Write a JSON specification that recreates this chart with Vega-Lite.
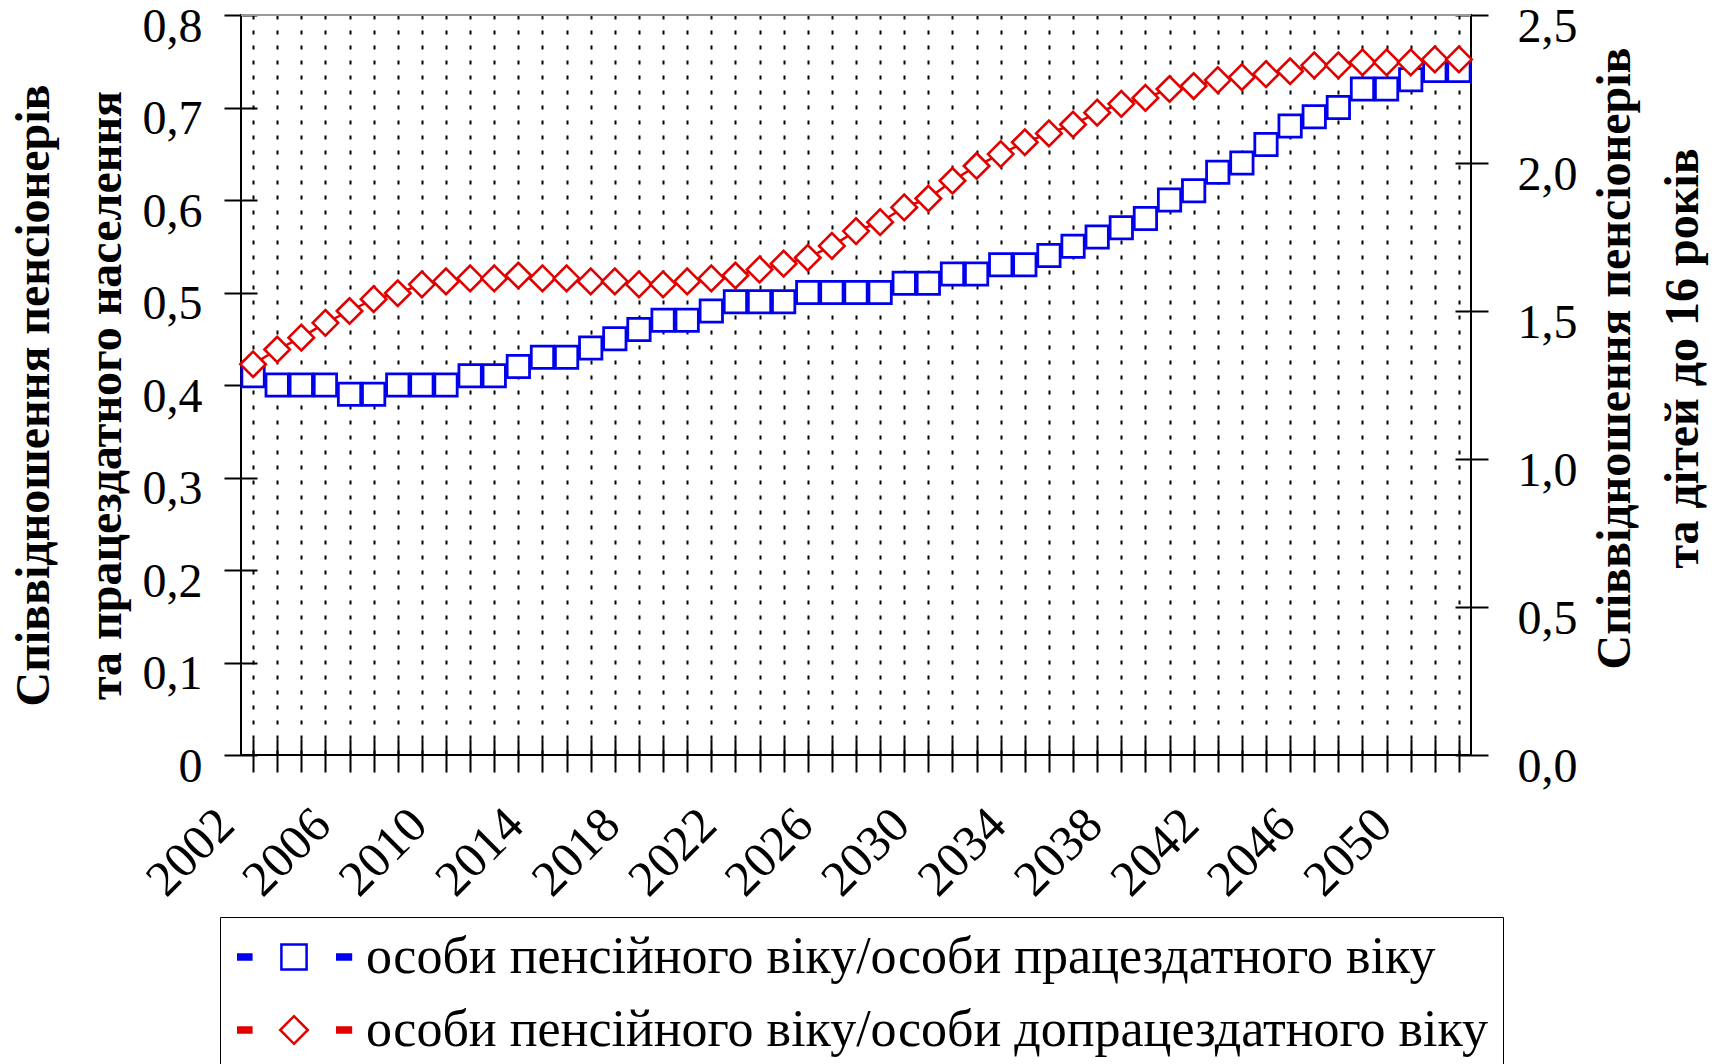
{
  "$schema": "https://vega.github.io/schema/vega-lite/v6.json",
  "autosize": {"type": "none"},
  "width": 1230,
  "height": 740,
  "padding": {"left": 241, "top": 15, "right": 258, "bottom": 309},
  "background": "white",
  "config": {
    "font": "Liberation Serif",
    "view": {"stroke": "black", "strokeWidth": 2},
    "axis": {"labelFont": "Liberation Serif", "titleFont": "Liberation Serif", "labelColor": "black", "titleColor": "black", "tickColor": "black"},
    "legend": {"labelFont": "Liberation Serif"}
  },
  "data": {"values": [
    {"year": 2002, "b": 0.41, "r": 1.32},
    {"year": 2003, "b": 0.40, "r": 1.37},
    {"year": 2004, "b": 0.40, "r": 1.41},
    {"year": 2005, "b": 0.40, "r": 1.46},
    {"year": 2006, "b": 0.39, "r": 1.50},
    {"year": 2007, "b": 0.39, "r": 1.54},
    {"year": 2008, "b": 0.40, "r": 1.56},
    {"year": 2009, "b": 0.40, "r": 1.59},
    {"year": 2010, "b": 0.40, "r": 1.60},
    {"year": 2011, "b": 0.41, "r": 1.61},
    {"year": 2012, "b": 0.41, "r": 1.61},
    {"year": 2013, "b": 0.42, "r": 1.62},
    {"year": 2014, "b": 0.43, "r": 1.61},
    {"year": 2015, "b": 0.43, "r": 1.61},
    {"year": 2016, "b": 0.44, "r": 1.60},
    {"year": 2017, "b": 0.45, "r": 1.60},
    {"year": 2018, "b": 0.46, "r": 1.59},
    {"year": 2019, "b": 0.47, "r": 1.59},
    {"year": 2020, "b": 0.47, "r": 1.60},
    {"year": 2021, "b": 0.48, "r": 1.61},
    {"year": 2022, "b": 0.49, "r": 1.62},
    {"year": 2023, "b": 0.49, "r": 1.64},
    {"year": 2024, "b": 0.49, "r": 1.66},
    {"year": 2025, "b": 0.50, "r": 1.68},
    {"year": 2026, "b": 0.50, "r": 1.72},
    {"year": 2027, "b": 0.50, "r": 1.77},
    {"year": 2028, "b": 0.50, "r": 1.80},
    {"year": 2029, "b": 0.51, "r": 1.85},
    {"year": 2030, "b": 0.51, "r": 1.88},
    {"year": 2031, "b": 0.52, "r": 1.94},
    {"year": 2032, "b": 0.52, "r": 1.99},
    {"year": 2033, "b": 0.53, "r": 2.03},
    {"year": 2034, "b": 0.53, "r": 2.07},
    {"year": 2035, "b": 0.54, "r": 2.10},
    {"year": 2036, "b": 0.55, "r": 2.13},
    {"year": 2037, "b": 0.56, "r": 2.17},
    {"year": 2038, "b": 0.57, "r": 2.20},
    {"year": 2039, "b": 0.58, "r": 2.22},
    {"year": 2040, "b": 0.60, "r": 2.25},
    {"year": 2041, "b": 0.61, "r": 2.26},
    {"year": 2042, "b": 0.63, "r": 2.28},
    {"year": 2043, "b": 0.64, "r": 2.29},
    {"year": 2044, "b": 0.66, "r": 2.30},
    {"year": 2045, "b": 0.68, "r": 2.31},
    {"year": 2046, "b": 0.69, "r": 2.33},
    {"year": 2047, "b": 0.70, "r": 2.33},
    {"year": 2048, "b": 0.72, "r": 2.34},
    {"year": 2049, "b": 0.72, "r": 2.34},
    {"year": 2050, "b": 0.73, "r": 2.34},
    {"year": 2051, "b": 0.74, "r": 2.35},
    {"year": 2052, "b": 0.74, "r": 2.35}
  ]},
  "layer": [
    {
      "layer": [
        {
          "mark": {"type": "line", "strokeWidth": 2.5},
          "encoding": {
            "x": {
              "field": "year", "type": "ordinal",
              "scale": {"paddingInner": 0, "paddingOuter": 0},
              "axis": {
                "title": null, "orient": "bottom", "bandPosition": 0, "offset": -16, "domain": false,
                "ticks": true, "tickSize": 33, "tickWidth": 2, "tickColor": "black",
                "grid": true, "gridColor": "black", "gridDash": [4, 11], "gridWidth": 2,
                "labelAngle": -45, "labelAlign": "right", "labelBaseline": "top",
                "labelFontSize": 50, "labelPadding": 27, "labelOffset": -45, "labelOverlap": false,
                "labelExpr": "(datum.value - 2002) % 4 == 0 ? datum.label : ''"
              }
            },
            "y": {
              "field": "b", "type": "quantitative",
              "scale": {"domain": [0, 0.8], "nice": false},
              "axis": {
                "title": ["Співвідношення пенсіонерів", "та працездатного населення"],
                "orient": "left", "offset": -16, "domain": false, "grid": false,
                "values": [0, 0.1, 0.2, 0.3, 0.4, 0.5, 0.6, 0.7, 0.8],
                "tickSize": 33, "tickWidth": 2, "tickColor": "black",
                "labelFontSize": 48, "labelPadding": 22, "labelOffset": 12,
                "labelExpr": "datum.value == 0 ? '0' : replace(format(datum.value, '.1f'), '.', ',')",
                "titleFontSize": 48, "titleFontWeight": "bold", "titleAngle": -90,
                "titleAlign": "center", "titleBaseline": "alphabetic", "titleLineHeight": 72,
                "titleX": -209, "titleY": 380
              }
            },
            "stroke": {
              "datum": "особи пенсійного віку/особи працездатного віку", "type": "nominal",
              "scale": {
                "domain": ["особи пенсійного віку/особи працездатного віку", "особи пенсійного віку/особи допрацездатного віку"],
                "range": ["#0000ee", "#e00000"]
              },
              "legend": {
                "title": null, "orient": "none", "legendX": -21, "legendY": 902, "direction": "vertical",
                "padding": 14, "strokeColor": "black", "fillColor": "white",
                "symbolOffset": 34, "labelOffset": 46, "labelFontSize": 52, "labelColor": "black",
                "labelLimit": 3000, "rowPadding": 21, "symbolSize": 576, "symbolStrokeWidth": 2.5,
                "symbolFillColor": "transparent", "symbolOpacity": 1
              }
            }
          }
        },
        {
          "mark": {"type": "point", "shape": "square", "size": 500, "filled": true, "fill": "white", "strokeWidth": 2.8, "opacity": 1},
          "encoding": {
            "x": {"field": "year", "type": "ordinal"},
            "y": {"field": "b", "type": "quantitative"},
            "stroke": {"datum": "особи пенсійного віку/особи працездатного віку", "type": "nominal"}
          }
        },
        {
          "mark": {"type": "point", "size": 576, "opacity": 0},
          "encoding": {
            "x": {"field": "year", "type": "ordinal"},
            "y": {"field": "b", "type": "quantitative"},
            "shape": {
              "datum": "особи пенсійного віку/особи працездатного віку", "type": "nominal",
              "scale": {
                "domain": ["особи пенсійного віку/особи працездатного віку", "особи пенсійного віку/особи допрацездатного віку"],
                "range": [
                  "M-4.75,-0.2H-3.45M-4.75,0H-3.45M-4.75,0.2H-3.45M-1.05,-1.05H1.05V1.05H-1.05ZM3.5,-0.2H4.85M3.5,0H4.85M3.5,0.2H4.85",
                  "M-4.75,-0.2H-3.45M-4.75,0H-3.45M-4.75,0.2H-3.45M0,-1.15L1.15,0L0,1.15L-1.15,0ZM3.5,-0.2H4.85M3.5,0H4.85M3.5,0.2H4.85"
                ]
              }
            }
          }
        },
        {
          "mark": {"type": "rule", "color": "#9a9a9a", "strokeWidth": 2},
          "encoding": {
            "y": {"datum": 0.8, "type": "quantitative"}
          }
        }
      ]
    },
    {
      "layer": [
        {
          "mark": {"type": "line", "strokeWidth": 2.5},
          "encoding": {
            "x": {"field": "year", "type": "ordinal"},
            "y": {
              "field": "r", "type": "quantitative",
              "scale": {"domain": [0, 2.5], "nice": false},
              "axis": {
                "title": ["Співвідношення пенсіонерів", "та дітей до 16 років"],
                "orient": "right", "offset": -16, "domain": false, "grid": false,
                "values": [0, 0.5, 1, 1.5, 2, 2.5],
                "tickSize": 33, "tickWidth": 2, "tickColor": "black",
                "labelFontSize": 48, "labelPadding": 29, "labelOffset": 12,
                "labelExpr": "replace(format(datum.value, '.1f'), '.', ',')",
                "titleFontSize": 48, "titleFontWeight": "bold", "titleAngle": -90,
                "titleAlign": "center", "titleBaseline": "alphabetic", "titleLineHeight": 68,
                "titleX": 174, "titleY": 343
              }
            },
            "stroke": {"datum": "особи пенсійного віку/особи допрацездатного віку", "type": "nominal"}
          }
        },
        {
          "mark": {"type": "point", "shape": "diamond", "size": 650, "filled": true, "fill": "white", "strokeWidth": 2.6, "opacity": 1},
          "encoding": {
            "x": {"field": "year", "type": "ordinal"},
            "y": {"field": "r", "type": "quantitative"},
            "stroke": {"datum": "особи пенсійного віку/особи допрацездатного віку", "type": "nominal"}
          }
        },
        {
          "mark": {"type": "point", "size": 576, "opacity": 0},
          "encoding": {
            "x": {"field": "year", "type": "ordinal"},
            "y": {"field": "r", "type": "quantitative"},
            "shape": {"datum": "особи пенсійного віку/особи допрацездатного віку", "type": "nominal"}
          }
        }
      ]
    }
  ],
  "resolve": {"scale": {"y": "independent"}}
}
